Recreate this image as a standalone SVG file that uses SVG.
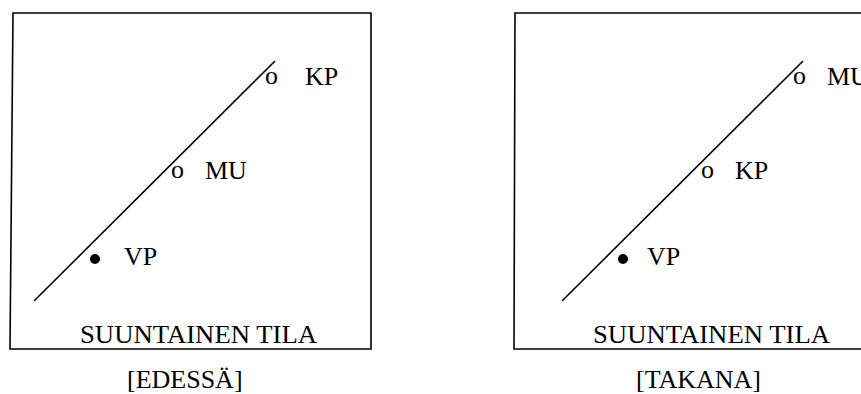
<svg xmlns="http://www.w3.org/2000/svg" width="861" height="394" viewBox="0 0 861 394">
<style>
text{font-family:"Liberation Serif","Times New Roman",serif;font-size:26px;fill:#000}
.frame{fill:none;stroke:#000;stroke-width:1.6}
.axis{stroke:#000;stroke-width:1.6;fill:none}
</style>
<rect width="861" height="394" fill="#fff"/>
<g id="panel-front">
<path class="frame" d="M13,13 L371,13 L371,349 L10,349 Z"/>
<g class="connectors"><line class="axis" x1="34" y1="301" x2="275" y2="61"/></g>
<g id="front-kp"><text x="265" y="84">o</text><text x="305" y="85">KP</text></g>
<g id="front-mu"><text x="171" y="178">o</text><text x="205" y="179">MU</text></g>
<g id="front-vp"><circle cx="95" cy="259" r="5" fill="#000"/><text x="124" y="265">VP</text></g>
<text x="80" y="343" textLength="237" lengthAdjust="spacingAndGlyphs">SUUNTAINEN TILA</text>
<text x="127" y="388">[EDESSÄ]</text>
</g>
<g id="panel-back">
<path class="frame" d="M861,13 L515,13 L514,349 L861,349"/>
<g class="connectors"><line class="axis" x1="562" y1="301" x2="803" y2="61"/></g>
<g id="back-mu"><text x="793" y="84">o</text><text x="827" y="85">MU</text></g>
<g id="back-kp"><text x="701" y="178">o</text><text x="735" y="179">KP</text></g>
<g id="back-vp"><circle cx="623" cy="259" r="5" fill="#000"/><text x="647" y="265">VP</text></g>
<text x="593" y="343" textLength="237" lengthAdjust="spacingAndGlyphs">SUUNTAINEN TILA</text>
<text x="636" y="388">[TAKANA]</text>
</g>
</svg>
